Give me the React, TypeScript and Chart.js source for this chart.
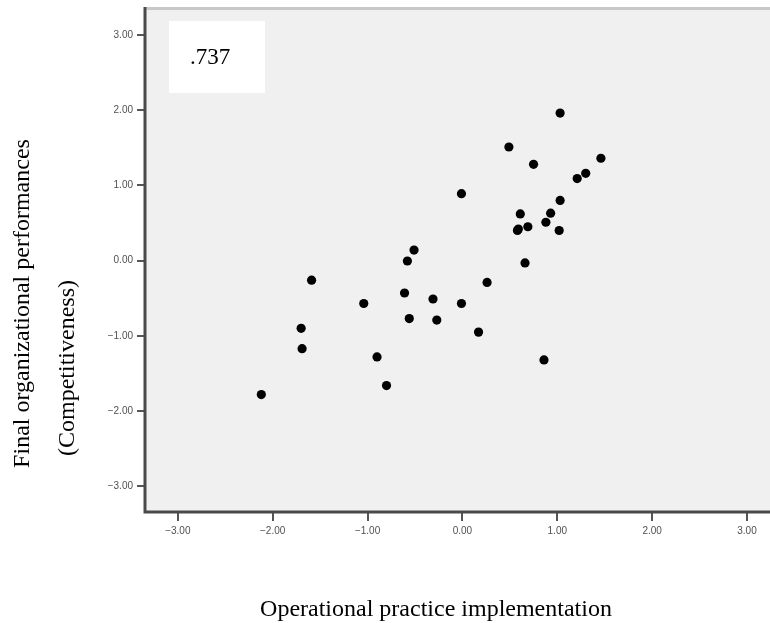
import { useEffect, useRef } from "react";
import { Chart, registerables } from "chart.js";

Chart.register(...registerables);

// Operational practice implementation (x) vs Final organizational performances (y)
const xValues = [
  1.03, 0.49, 1.46, 0.75, 1.3, 1.21, -0.01, 1.03, 0.61, 0.93, 0.88, 0.69, 0.58, 0.59, 1.02,
  -0.51, -0.58, 0.66, -1.59, 0.26, -0.61, -0.31, -1.04, -0.01, -0.56, -0.27, 0.17, -1.7,
  -1.69, -0.9, 0.86, -0.8, -2.12,
];
const yValues = [
  1.96, 1.51, 1.36, 1.28, 1.16, 1.09, 0.89, 0.8, 0.62, 0.63, 0.51, 0.45, 0.4, 0.42, 0.4,
  0.14, -0.005, -0.03, -0.26, -0.29, -0.43, -0.51, -0.57, -0.57, -0.77, -0.79, -0.95, -0.9,
  -1.17, -1.28, -1.32, -1.66, -1.78,
];
const tickValues = [-3, -2, -1, 0, 1, 2, 3];
const xTitle = "Operational practice implementation";
const yTitleLines = ["Final organizational performances", "(Competitiveness)"];
const correlationLabel = ".737";

const fmt = (v: number) => v.toFixed(2).replace("-", "\u2212");

export default function App() {
  const ref = useRef<HTMLCanvasElement | null>(null);

  useEffect(() => {
    document.body.style.margin = "0";
    const canvas = ref.current;
    if (!canvas) return;

    const decor = {
      id: "decor",
      beforeDraw(chart: any) {
        const { ctx, chartArea: a, width } = chart;
        ctx.save();
        ctx.fillStyle = "#f0f0f0";
        ctx.fillRect(a.left, a.top, width - a.left, a.bottom - a.top);
        ctx.strokeStyle = "#c8c8c8";
        ctx.lineWidth = 3;
        ctx.beginPath();
        ctx.moveTo(a.left, a.top - 1.5);
        ctx.lineTo(width, a.top - 1.5);
        ctx.stroke();
        // correlation box
        ctx.fillStyle = "#ffffff";
        ctx.fillRect(a.left + 24, a.top + 11, 96, 72);
        ctx.fillStyle = "#000000";
        ctx.font = "23px 'Liberation Serif', 'Times New Roman', serif";
        ctx.textAlign = "left";
        ctx.textBaseline = "alphabetic";
        ctx.fillText(correlationLabel, a.left + 45, a.top + 54);
        ctx.restore();
      },
      afterDraw(chart: any) {
        const { ctx, chartArea: a, width } = chart;
        // axis lines
        ctx.save();
        ctx.strokeStyle = "#4a4a4a";
        ctx.lineWidth = 3;
        ctx.beginPath();
        ctx.moveTo(a.left, a.top - 3);
        ctx.lineTo(a.left, a.bottom + 1.5);
        ctx.moveTo(a.left - 1.5, a.bottom);
        ctx.lineTo(width, a.bottom);
        ctx.stroke();
        ctx.restore();

        ctx.save();
        ctx.fillStyle = "#000000";
        ctx.font = "24px 'Liberation Serif', 'Times New Roman', serif";
        ctx.textAlign = "center";
        ctx.textBaseline = "alphabetic";
        ctx.fillText(xTitle, 436, 616);
        ctx.translate(29, 303.5);
        ctx.rotate(-Math.PI / 2);
        ctx.fillText(yTitleLines[0], 0, 0);
        ctx.restore();
        ctx.save();
        ctx.fillStyle = "#000000";
        ctx.font = "24px 'Liberation Serif', 'Times New Roman', serif";
        ctx.textAlign = "center";
        ctx.textBaseline = "alphabetic";
        ctx.translate(74, 368);
        ctx.rotate(-Math.PI / 2);
        ctx.fillText(yTitleLines[1], 0, 0);
        ctx.restore();
      },
    };

    const tickFont = { family: "'Liberation Sans', Arial, sans-serif", size: 10 };

    const chart = new Chart(canvas, {
      type: "scatter",
      data: {
        datasets: [
          {
            data: xValues.map((x, i) => ({ x, y: yValues[i] })),
            backgroundColor: "#000000",
            borderWidth: 0,
            pointRadius: 4.6,
            pointHoverRadius: 4.6,
          },
        ],
      },
      options: {
        responsive: false,
        animation: false,
        devicePixelRatio: 1,
        layout: { padding: { top: 10, right: 0, left: 0, bottom: 0 } },
        plugins: { legend: { display: false }, tooltip: { enabled: false } },
        scales: {
          x: {
            type: "linear",
            min: -3.346,
            max: 3.194,
            afterBuildTicks: (s: any) => {
              s.ticks = tickValues.map((v) => ({ value: v }));
            },
            afterFit: (s: any) => {
              s.height = 111;
            },
            ticks: {
              callback: (v: any) => fmt(Number(v)),
              font: tickFont,
              color: "#505050",
              padding: 4,
              maxRotation: 0,
              autoSkip: false,
            },
            grid: {
              drawOnChartArea: false,
              drawTicks: true,
              tickLength: 9,
              color: "#555555",
              lineWidth: 2,
            },
            border: { display: false },
          },
          y: {
            type: "linear",
            min: -3.34,
            max: 3.33,
            afterBuildTicks: (s: any) => {
              s.ticks = tickValues.map((v) => ({ value: v }));
            },
            afterFit: (s: any) => {
              s.width = 145;
            },
            ticks: {
              callback: (v: any) => fmt(Number(v)),
              font: tickFont,
              color: "#505050",
              padding: 4,
              autoSkip: false,
            },
            grid: {
              drawOnChartArea: false,
              drawTicks: true,
              tickLength: 8,
              color: "#555555",
              lineWidth: 2,
            },
            border: { display: false },
          },
        },
      },
      plugins: [decor],
    });

    return () => chart.destroy();
  }, []);

  return (
    <canvas
      ref={ref}
      width={770}
      height={623}
      style={{ display: "block", width: "770px", height: "623px" }}
    />
  );
}
